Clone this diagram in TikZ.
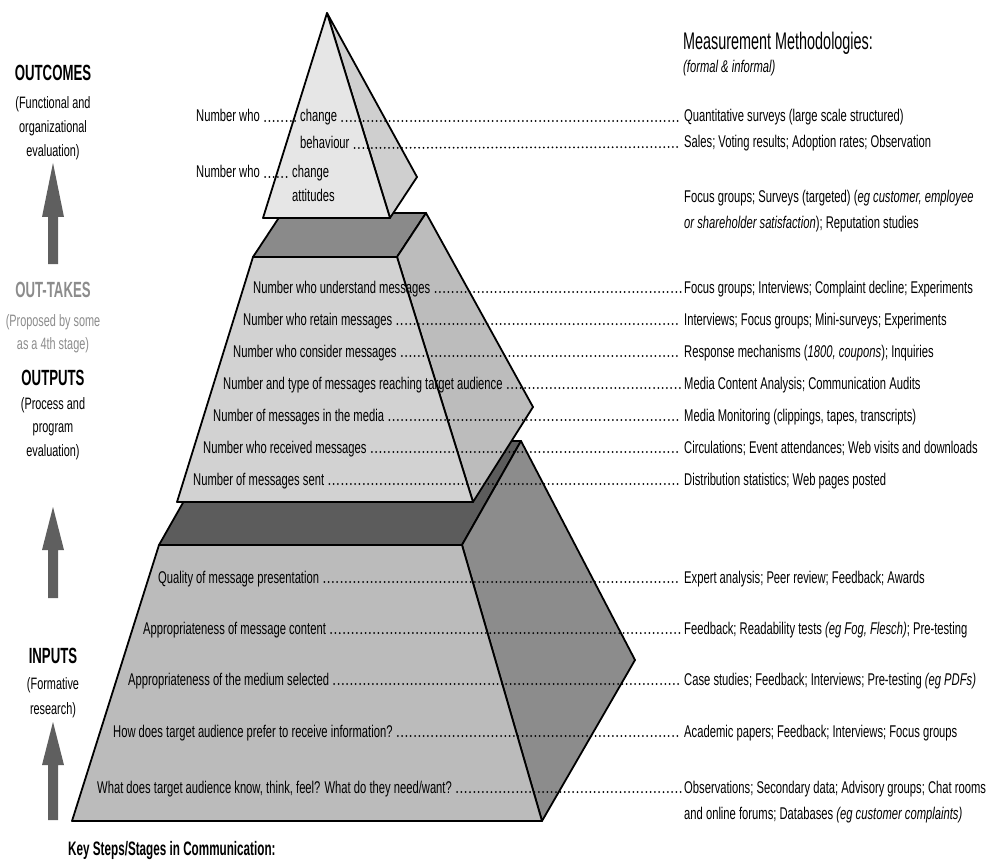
\documentclass[tikz,border=0pt]{standalone}
\usepackage{fontspec}
\setmainfont[FakeStretch=0.66]{Liberation Sans}
\newfontfamily\headfont[FakeStretch=0.6]{Liberation Sans}
\definecolor{topA}{HTML}{E6E6E6}
\definecolor{topB}{HTML}{CFCFCF}
\definecolor{midA}{HTML}{D2D2D2}
\definecolor{midB}{HTML}{BCBCBC}
\definecolor{midC}{HTML}{8A8A8A}
\definecolor{botA}{HTML}{BBBBBB}
\definecolor{botB}{HTML}{8C8C8C}
\definecolor{botC}{HTML}{5C5C5C}
\definecolor{arrowgray}{HTML}{5F5F5F}
\definecolor{takegray}{HTML}{8C8C8C}
\tikzset{
  face/.style={draw=black, line width=1.8pt, line join=round},
  lab/.style={inner sep=0pt, anchor=base west, font=\fontsize{17}{20}\selectfont},
  sidehead/.style={inner sep=0pt, anchor=base, font=\headfont\fontsize{22}{25}\selectfont\bfseries},
  sidesub/.style={inner sep=0pt, anchor=base, font=\fontsize{16.5}{19}\selectfont},
  leader/.style={line width=2pt, dash pattern=on 0pt off 4.3pt, line cap=round},
  fatarrow/.style={fill=arrowgray}
}
\newcommand{\ldr}[2]{\draw[leader] ([xshift=5pt,yshift=1pt]#1.base east) -- ([xshift=-3pt,yshift=1pt]#2.base west);}
\begin{document}
\begin{tikzpicture}[x=1pt,y=-1pt]
\useasboundingbox (0,0) rectangle (988,861);

% ---------- bottom pyramid ----------
\draw[face, fill=botC] (159,545) -- (462,545) -- (521,441) -- (218,441) -- cycle;
\draw[face, fill=botB] (462,545) -- (521,441) -- (635,660) -- (542,821) -- cycle;
\draw[face, fill=botA] (159,545) -- (462,545) -- (542,821) -- (72,821) -- cycle;
% ---------- middle pyramid ----------
\draw[face, fill=midC] (253,257) -- (397,257) -- (426,213) -- (282,213) -- cycle;
\draw[face, fill=midB] (397,257) -- (426,213) -- (533,407) -- (473,502) -- cycle;
\draw[face, fill=midA] (253,257) -- (397,257) -- (473,502) -- (177,502) -- cycle;
% ---------- top pyramid ----------
\draw[face, fill=topB] (327,13) -- (417,177) -- (390,218) -- cycle;
\draw[face, fill=topA] (327,13) -- (390,218) -- (263,218) -- cycle;

% ---------- left column ----------
\node[sidehead] (outcomes) at (53,81) {OUTCOMES};
\node[sidesub] (oc1) at (53,109) {(Functional and};
\node[sidesub] (oc2) at (53,133) {organizational};
\node[sidesub] (oc3) at (53,157) {evaluation)};
\fill[fatarrow] (53,163) -- (64,217) -- (58,217) -- (58,264) -- (48,264) -- (48,217) -- (42,217) -- cycle;
\node[sidehead, text=takegray] (outtakes) at (53,298) {OUT-TAKES};
\node[sidesub, text=takegray] (ot1) at (53,326) {(Proposed by some};
\node[sidesub, text=takegray] (ot2) at (53,349) {as a 4th stage)};
\node[sidehead] (outputs) at (53,385) {OUTPUTS};
\node[sidesub] (op1) at (53,409) {(Process and};
\node[sidesub] (op2) at (53,432) {program};
\node[sidesub] (op3) at (53,456) {evaluation)};
\fill[fatarrow] (53,507) -- (64,550) -- (58,550) -- (58,598) -- (48,598) -- (48,550) -- (42,550) -- cycle;
\node[sidehead] (inputs) at (53,663) {INPUTS};
\node[sidesub] (in1) at (53,689) {(Formative};
\node[sidesub] (in2) at (53,714) {research)};
\fill[fatarrow] (53,722) -- (64,765) -- (58,765) -- (58,820) -- (48,820) -- (48,765) -- (42,765) -- cycle;
\node[inner sep=0pt, anchor=base west, font=\headfont\fontsize{19.5}{22}\selectfont\bfseries] (keysteps) at (68,855) {Key Steps/Stages in Communication:};

% ---------- right header ----------
\node[inner sep=0pt, anchor=base west, font=\headfont\fontsize{24}{27}\selectfont] (mhead) at (683,50) {Measurement Methodologies:};
\node[inner sep=0pt, anchor=base west, font=\fontsize{17}{20}\selectfont\itshape] (msub) at (683,73) {(formal \& informal)};

% ---------- top pyramid labels ----------
\node[lab] (t1) at (196,122) {Number who};
\node[lab] (t2) at (300,122) {change};
\node[lab] (t3) at (300,149) {behaviour};
\node[lab] (t4) at (196,178) {Number who};
\node[lab] (t5) at (292,178) {change};
\node[lab] (t6) at (292,202) {attitudes};
\node[lab] (m1) at (684,122) {Quantitative surveys (large scale structured)};
\node[lab] (m2) at (684,148) {Sales; Voting results; Adoption rates; Observation};
\node[lab] (m3) at (684,203) {Focus groups; Surveys (targeted) (\textit{eg customer, employee}};
\node[lab] (m3b) at (684,229) {\textit{or shareholder satisfaction}); Reputation studies};
\ldr{t1}{t2}
\ldr{t2}{m1}
\ldr{t3}{m2}
\ldr{t4}{t5}

% ---------- middle pyramid labels ----------
\node[lab] (a1) at (253,293) {Number who understand messages};
\node[lab] (a2) at (243,325) {Number who retain messages};
\node[lab] (a3) at (233,357) {Number who consider messages};
\node[lab] (a4) at (223,389) {Number and type of messages reaching target audience};
\node[lab] (a5) at (213,421) {Number of messages in the media};
\node[lab] (a6) at (203,453) {Number who received messages};
\node[lab] (a7) at (193,485) {Number of messages sent};
\node[lab] (b1) at (684,293) {Focus groups; Interviews; Complaint decline; Experiments};
\node[lab] (b2) at (684,325) {Interviews; Focus groups; Mini-surveys; Experiments};
\node[lab] (b3) at (684,357) {Response mechanisms (\textit{1800, coupons}); Inquiries};
\node[lab] (b4) at (684,389) {Media Content Analysis; Communication Audits};
\node[lab] (b5) at (684,421) {Media Monitoring (clippings, tapes, transcripts)};
\node[lab] (b6) at (684,453) {Circulations; Event attendances; Web visits and downloads};
\node[lab] (b7) at (684,485) {Distribution statistics; Web pages posted};
\ldr{a1}{b1}
\ldr{a2}{b2}
\ldr{a3}{b3}
\ldr{a4}{b4}
\ldr{a5}{b5}
\ldr{a6}{b6}
\ldr{a7}{b7}

% ---------- bottom pyramid labels ----------
\node[lab] (c1) at (158,583) {Quality of message presentation};
\node[lab] (c2) at (143,634) {Appropriateness of message content};
\node[lab] (c3) at (128,685) {Appropriateness of the medium selected};
\node[lab] (c4) at (113,737) {How does target audience prefer to receive information?};
\node[lab] (c5) at (97,793) {What does target audience know, think, feel? What do they need/want?};
\node[lab] (d1) at (684,583) {Expert analysis; Peer review; Feedback; Awards};
\node[lab] (d2) at (684,634) {Feedback; Readability tests \textit{(eg Fog, Flesch)}; Pre-testing};
\node[lab] (d3) at (684,685) {Case studies; Feedback; Interviews; Pre-testing \textit{(eg PDFs)}};
\node[lab] (d4) at (684,737) {Academic papers; Feedback; Interviews; Focus groups};
\node[lab] (d5) at (684,793) {Observations; Secondary data; Advisory groups; Chat rooms};
\node[lab] (d5b) at (684,819) {and online forums; Databases \textit{(eg customer complaints)}};
\ldr{c1}{d1}
\ldr{c2}{d2}
\ldr{c3}{d3}
\ldr{c4}{d4}
\ldr{c5}{d5}
\end{tikzpicture}
\end{document}
